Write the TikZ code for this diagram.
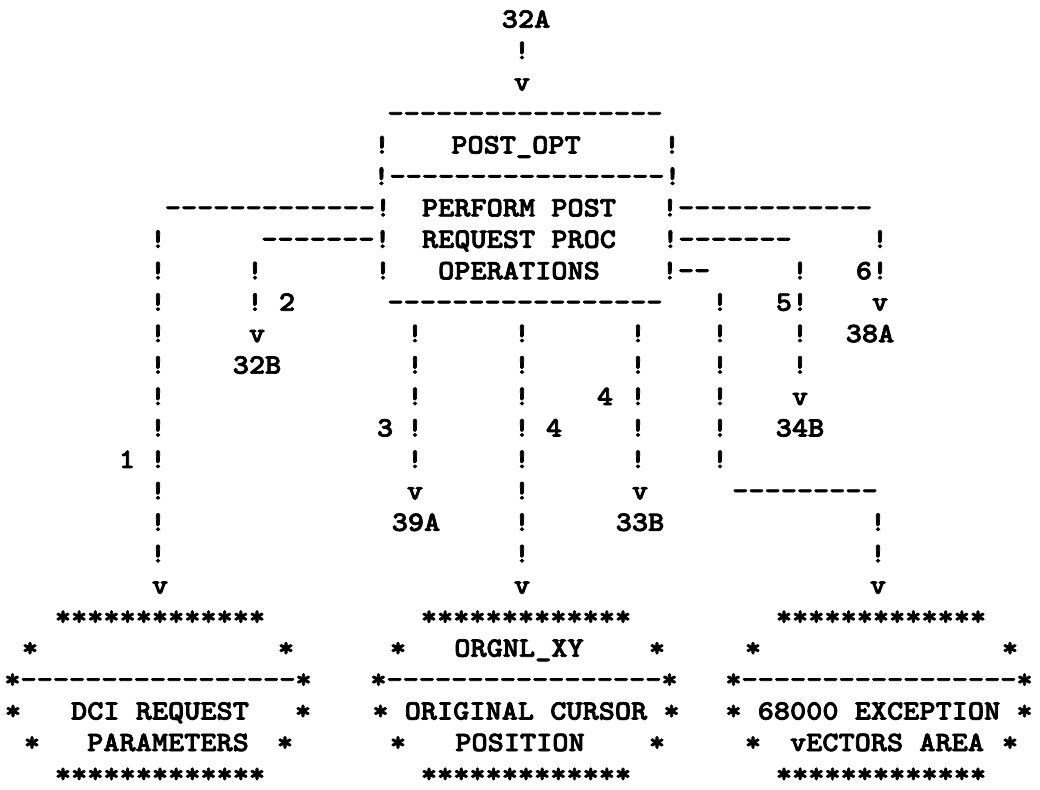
\documentclass[tikz,border=0pt]{standalone}
\usepackage{fontspec}
\newfontfamily\typewriter{lmmonolt10-bold}[Extension=.otf, FakeBold=2.6, FakeStretch=1.1]
\usepackage{tikz}

% a run of typewriter dashes (kept apart so no en/em dash ligature forms)
\newcommand\dsh[1]{\foreach\i in {1,...,#1}{-\kern0pt}}

\begin{document}
\begin{tikzpicture}[
  x=1pt, y=-31.45pt,
  asc/.style={anchor=base, inner sep=0pt, font=\typewriter\fontsize{28}{31}\selectfont}
]
  \useasboundingbox (0,0.12) rectangle (1040,25.21);

  % entry
  \node[asc] (from32a) at (526,1) {32A};
  \node[asc] (bar0) at (522,2) {!};
  \node[asc] (tip0) at (522,3) {v};

  % POST_OPT box
  \node[asc] (boxtop) at (525,4) {\dsh{17}};
  \node[asc] (boxl) at (382,5) {!};
  \node[asc] (title) at (516,5) {POST\_OPT};
  \node[asc] (boxr) at (672,5) {!};
  \node[asc] (boxsep) at (527,6) {!\dsh{17}!};
  \node[asc] (out1) at (278,7) {\dsh{13}!};
  \node[asc] (desc1) at (519,7) {PERFORM POST};
  \node[asc] (out6) at (767,7) {!\dsh{12}};
  \node[asc] (out2) at (326,8) {\dsh{7}!};
  \node[asc] (desc2) at (519,8) {REQUEST PROC};
  \node[asc] (out5) at (727,8) {!\dsh{7}};
  \node[asc] (boxl3) at (383,9) {!};
  \node[asc] (desc3) at (519,9) {OPERATIONS};
  \node[asc] (out7) at (686,9) {!\dsh{2}};
  \node[asc] (boxbot) at (525,10) {\dsh{17}};

  % branch 1
  \foreach \r in {8,...,18} \node[asc] (b1-\r) at (158,\r) {!};
  \node[asc] (lab1) at (127,15) {1};
  \node[asc] (tip1) at (160,19) {v};

  % branch 2
  \foreach \r in {9,10} \node[asc] (b2-\r) at (255,\r) {!};
  \node[asc] (lab2) at (287,10) {2};
  \node[asc] (tip2) at (257,11) {v};
  \node[asc] (to32b) at (257,12) {32B};

  % branch 3
  \foreach \r in {11,...,15} \node[asc] (b3-\r) at (415,\r) {!};
  \node[asc] (lab3) at (385,14) {3};
  \node[asc] (tip3) at (415,16) {v};
  \node[asc] (to39a) at (416,17) {39A};

  % branch 4, down to ORGNL_XY
  \foreach \r in {11,...,18} \node[asc] (b4-\r) at (522,\r) {!};
  \node[asc] (lab4) at (554,14) {4};
  \node[asc] (tip4) at (522,19) {v};

  % branch 4, to 33B
  \foreach \r in {11,...,15} \node[asc] (b4b-\r) at (638,\r) {!};
  \node[asc] (lab4b) at (605,13) {4};
  \node[asc] (tip4b) at (640,16) {v};
  \node[asc] (to33b) at (640,17) {33B};

  % branch 5
  \node[asc] (b5-9) at (800,9) {!};
  \node[asc] (lab5) at (792,10) {5!};
  \foreach \r in {11,12} \node[asc] (b5-\r) at (800,\r) {!};
  \node[asc] (tip5) at (800,13) {v};
  \node[asc] (to34b) at (800,14) {34B};

  % branch 6
  \node[asc] (b6-8) at (880,8) {!};
  \node[asc] (lab6) at (872,9) {6!};
  \node[asc] (tip6) at (880,10) {v};
  \node[asc] (to38a) at (870,11) {38A};

  % branch 7, down to 68000 vectors
  \foreach \r in {10,...,15} \node[asc] (b7-\r) at (720,\r) {!};
  \node[asc] (b7h) at (805,16) {\dsh{9}};
  \foreach \r in {17,18} \node[asc] (b7v-\r) at (878,\r) {!};
  \node[asc] (tip7) at (878,19) {v};

  % DCI request parameters
  \node[asc] (dcitop) at (160,20) {*************};
  \node[asc] (dcil1) at (30,21) {*};
  \node[asc] (dcir1) at (286,21) {*};
  \node[asc] (dcisep) at (158,22) {*\dsh{17}*};
  \node[asc] (dcil2) at (13,23) {*};
  \node[asc] (dciname1) at (160,23) {DCI REQUEST};
  \node[asc] (dcir2) at (303,23) {*};
  \node[asc] (dcil3) at (32,24) {*};
  \node[asc] (dciname2) at (168,24) {PARAMETERS};
  \node[asc] (dcir3) at (285,24) {*};
  \node[asc] (dcibot) at (160,25) {*************};

  % ORGNL_XY
  \node[asc] (orgtop) at (526,20) {*************};
  \node[asc] (orgl1) at (398,21) {*};
  \node[asc] (orgname) at (519,21) {ORGNL\_XY};
  \node[asc] (orgr1) at (657,21) {*};
  \node[asc] (orgsep) at (524,22) {*\dsh{17}*};
  \node[asc] (orgdesc1) at (526,23) {*~ORIGINAL~CURSOR~*};
  \node[asc] (orgl3) at (398,24) {*};
  \node[asc] (orgdesc2) at (520,24) {POSITION};
  \node[asc] (orgr3) at (657,24) {*};
  \node[asc] (orgbot) at (526,25) {*************};

  % 68000 exception vectors
  \node[asc] (exctop) at (881,20) {*************};
  \node[asc] (excl1) at (753,21) {*};
  \node[asc] (excr1) at (1010,21) {*};
  \node[asc] (excsep) at (879,22) {*\dsh{17}*};
  \node[asc] (excdesc1) at (879,23) {*~68000~EXCEPTION~*};
  \node[asc] (excl3) at (753,24) {*};
  \node[asc] (excdesc2) at (887,24) {vECTORS~AREA};
  \node[asc] (excr3) at (1010,24) {*};
  \node[asc] (excbot) at (881,25) {*************};
\end{tikzpicture}
\end{document}
